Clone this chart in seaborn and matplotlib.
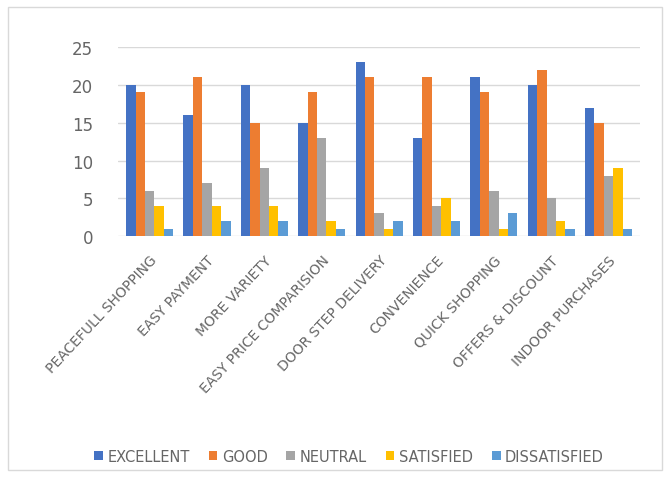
import pandas as pd
import matplotlib.pyplot as plt
import seaborn as sns
from matplotlib.patches import Rectangle

# ── Data ─────────────────────────────────────────────────────────────────────
categories = [
    "PEACEFULL SHOPPING", "EASY PAYMENT", "MORE VARIETY",
    "EASY PRICE COMPARISION", "DOOR STEP DELIVERY", "CONVENIENCE",
    "QUICK SHOPPING", "OFFERS & DISCOUNT", "INDOOR PURCHASES",
]
excellent    = [20, 16, 20, 15, 23, 13, 21, 20, 17]
good         = [19, 21, 15, 19, 21, 21, 19, 22, 15]
neutral      = [6, 7, 9, 13, 3, 4, 6, 5, 8]
satisfied    = [4, 4, 4, 2, 1, 5, 1, 2, 9]
dissatisfied = [1, 2, 2, 1, 2, 2, 3, 1, 1]

series_names = ["EXCELLENT", "GOOD", "NEUTRAL", "SATISFIED", "DISSATISFIED"]
palette = ["#4472C4", "#ED7D31", "#A5A5A5", "#FFC000", "#5B9BD5"]

rows = []
for name, vals in zip(series_names, [excellent, good, neutral, satisfied, dissatisfied]):
    for cat, v in zip(categories, vals):
        rows.append({"category": cat, "rating": name, "count": v})
df = pd.DataFrame(rows)

# ── Plot ─────────────────────────────────────────────────────────────────────
sns.set_theme(style="white")
plt.rcParams["font.family"] = ["DejaVu Sans"]
TEXT = "#666666"

fig = plt.figure(figsize=(6.71, 4.81), dpi=100)
ax = fig.add_axes([0.176, 0.507, 0.778, 0.393])

sns.barplot(data=df, x="category", y="count", hue="rating",
            hue_order=series_names, palette=palette, width=0.82,
            saturation=1, edgecolor="none", ax=ax, legend=True)

ax.set_ylim(0, 25)
ax.set_yticks([0, 5, 10, 15, 20, 25])
ax.yaxis.grid(True, color="#d9d9d9", lw=1)
ax.set_axisbelow(True)
for s in ax.spines.values():
    s.set_visible(False)
ax.set_xlabel("")
ax.set_ylabel("")
ax.tick_params(axis="y", labelsize=12, colors=TEXT, length=0, pad=18)
ax.tick_params(axis="x", labelsize=10, colors=TEXT, length=0, pad=12)
plt.setp(ax.get_xticklabels(), rotation=47, ha="right", rotation_mode="anchor")
ax.set_xlim(-0.55, len(categories) - 0.45)

ax.legend(loc="upper center", ncol=5, frameon=False, fontsize=10.5,
          handlelength=0.6, handleheight=0.6, handletextpad=0.3,
          columnspacing=1.3, labelcolor=TEXT)
leg = ax.get_legend()
leg.set_bbox_to_anchor((0.52, 0.092), transform=fig.transFigure)

fig.patches.append(Rectangle((0.012, 0.02), 0.975, 0.963, transform=fig.transFigure,
                             fill=False, edgecolor="#d9d9d9", lw=1))

fig.savefig("out.png", dpi=100)
